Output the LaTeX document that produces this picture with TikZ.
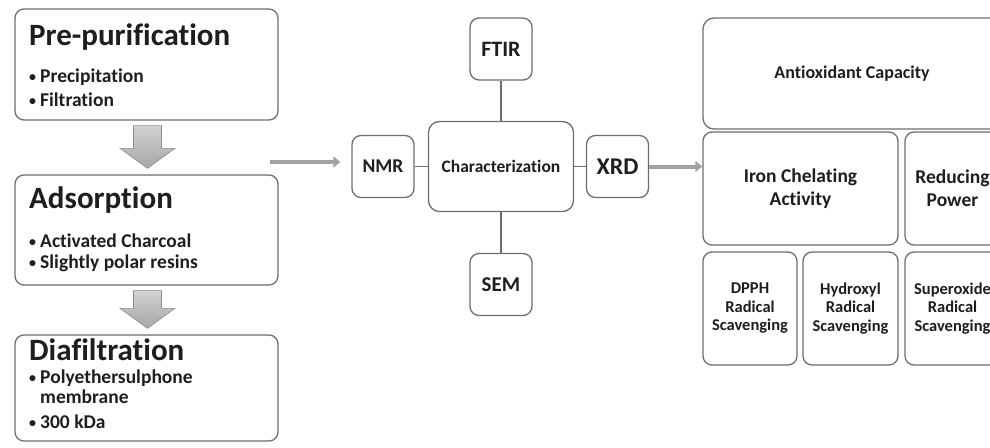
\documentclass[tikz,border=0pt]{standalone}
\usepackage{fontspec}
\setmainfont{Carlito}[Ligatures=CommonOff]
\usetikzlibrary{arrows.meta,calc}
\definecolor{boxline}{HTML}{6E6E6E}
\definecolor{txt}{HTML}{1E1E1E}
\definecolor{arrowgray}{HTML}{A2A2A2}
\definecolor{arrowedge}{HTML}{8C8C8C}
\newcommand\fsz[2]{\fontsize{#1}{#2}\selectfont\bfseries}
\newcommand\bl{\makebox[11pt][l]{\raisebox{0.5pt}{\fontsize{14}{14}\selectfont•}}}
\newcommand\blockdown[2]{%
  \path let \p1=(#1.south), \p2=(#2.north) in
    [blockfill] (\x1-13pt,\y1-5pt) -- (\x1+15pt,\y1-5pt) -- (\x1+15pt,\y2+26pt)
    -- (\x1+28.5pt,\y2+26pt) -- (\x1+1pt,\y2+6pt) -- (\x1-26.5pt,\y2+26pt)
    -- (\x1-13pt,\y2+26pt) -- cycle;}
\begin{document}
\begin{tikzpicture}[x=1pt,y=-1pt,
  box/.style={draw=boxline,line width=1.3pt,rounded corners=9pt,inner sep=0pt,fill=white,text=txt,align=center},
  title/.style={anchor=base west,text=txt,inner sep=0pt,font=\fsz{31}{34}},
  bul/.style={anchor=base west,text=txt,inner sep=0pt,font=\fsz{19.5}{22}},
  conn/.style={draw=boxline,line width=1.3pt},
  bigarr/.style={draw=arrowgray,line width=4pt,-{Triangle[length=7pt,width=11pt]}},
  blockfill/.style={draw=arrowedge,line width=0.6pt,top color=gray!35,bottom color=gray!70}
]
\useasboundingbox (0,0) rectangle (990,447);
\clip (0,0) rectangle (990,447);

% left column
\node[box,minimum width=263pt,minimum height=111pt] (pre) at (146.5,64.5) {};
\node[box,minimum width=263pt,minimum height=110pt] (ads) at (146.5,230) {};
\node[box,minimum width=263pt,minimum height=106pt] (dia) at (146.5,388) {};

\node[title] (pret) at (29,45) {Pre-purification};
\node[bul] (pre1) at (29,82) {\bl Precipitation};
\node[bul] (pre2) at (29,106) {\bl Filtration};

\node[title] (adst) at (29,208) {Adsorption};
\node[bul] (ads1) at (29,247) {\bl Activated Charcoal};
\node[bul] (ads2) at (29,268) {\bl Slightly polar resins};

\node[title] (diat) at (29,360) {Diafiltration};
\node[bul] (dia1) at (29,383) {\bl Polyethersulphone};
\node[bul] (dia2) at (40,403) {membrane};
\node[bul] (dia3) at (29,428) {\bl 300 kDa};

\blockdown{pre}{ads}
\blockdown{ads}{dia}

% characterization
\node[box,minimum width=145pt,minimum height=90pt,rounded corners=11pt,font=\fsz{17.5}{20}] (char) at (501,166.5) {Characterization};
\node[box,minimum width=62pt,minimum height=62pt,font=\fsz{19.5}{22}] (nmr) at (383,166.5) {NMR};
\node[box,minimum width=62pt,minimum height=62pt,font=\fsz{24}{27}] (xrd) at (617.5,166.5) {XRD};
\node[box,minimum width=62pt,minimum height=62pt,font=\fsz{22}{25}] (ftir) at (501,49) {FTIR};
\node[box,minimum width=62pt,minimum height=62pt,font=\fsz{21}{24}] (sem) at (501,284.5) {SEM};

\draw[conn] (nmr) -- (char);
\draw[conn] (char) -- (xrd);
\draw[conn] (ftir) -- (char);
\draw[conn] (char) -- (sem);

\coordinate (a1s) at (270,162);
\draw[bigarr,shorten >=11pt] (a1s) -- (a1s -| nmr.west);

% antioxidant
\node[box,minimum width=298pt,minimum height=111pt,rounded corners=11pt,font=\fsz{18}{21}] (anti) at (852,73.5) {Antioxidant Capacity};
\node[box,minimum width=195pt,minimum height=113pt,font=\fsz{19.5}{23}] (iron) at (800.5,188.5) {Iron Chelating\\Activity};
\node[box,minimum width=95pt,minimum height=113pt,font=\fsz{19.5}{23}] (red) at (952.5,188.5) {Reducing\\Power};
\node[box,minimum width=94pt,minimum height=113pt,font=\fsz{16.5}{18.5}] (dpph) at (750,308.5) {DPPH\\Radical\\Scavenging};
\node[box,minimum width=95pt,minimum height=113pt,font=\fsz{16.5}{18.5}] (hyd) at (850.5,308.5) {Hydroxyl\\Radical\\Scavenging};
\node[box,minimum width=95pt,minimum height=113pt,font=\fsz{16.5}{18.5}] (sup) at (952.5,308.5) {Superoxide\\Radical\\Scavenging};

\draw[bigarr] (xrd.east) -- (xrd.east -| iron.west);
\end{tikzpicture}
\end{document}
